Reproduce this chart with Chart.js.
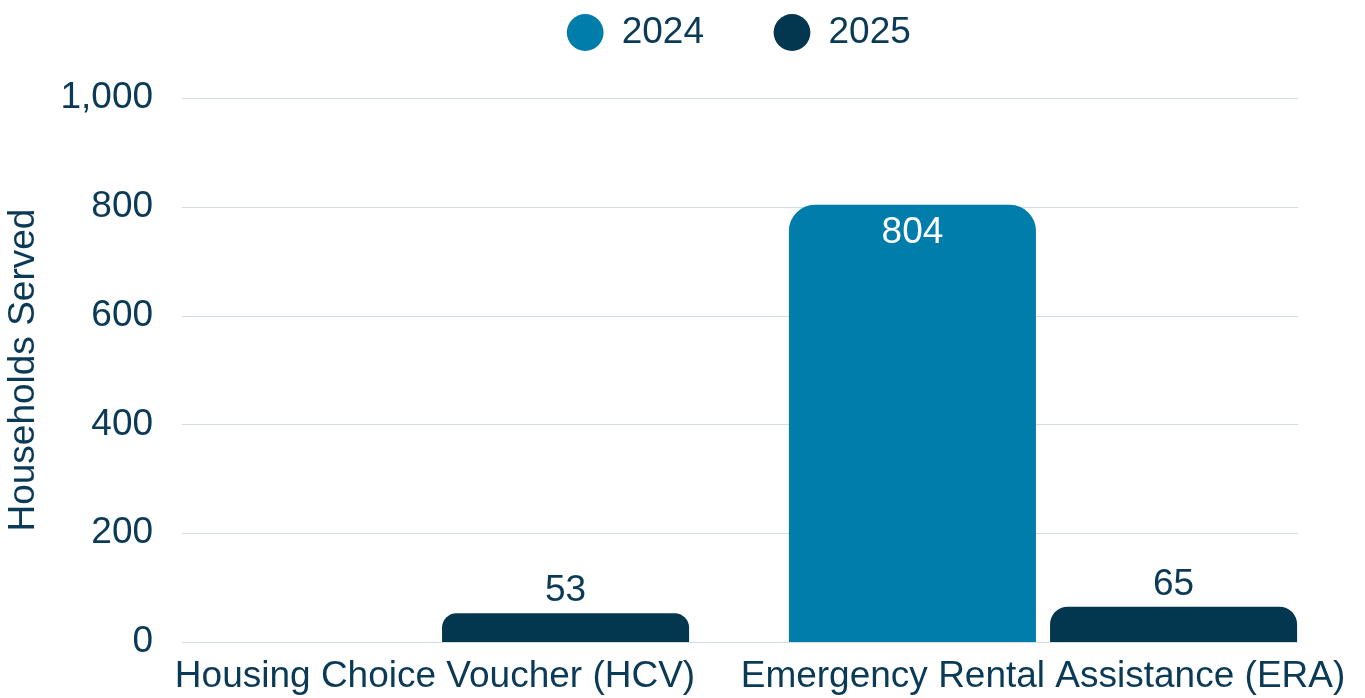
<!DOCTYPE html>
<html>
<head>
<meta charset="utf-8">
<script src="https://cdn.jsdelivr.net/npm/chart.js@4.4.1/dist/chart.umd.min.js"></script>
<style>
  html, body { margin: 0; padding: 0; background: #fff; }
  #wrap { width: 1365px; height: 698px; }
</style>
</head>
<body>
<div id="wrap"><canvas id="chart-hh"></canvas></div>
<script>
// ── Datos ────────────────────────────────────────────────────────────────────
const PROGRAMAS = ['Housing Choice Voucher (HCV)', 'Emergency Rental Assistance (ERA)'];
const ANIOS     = ['2024', '2025'];
const VAL_2024  = [null, 804];
const VAL_2025  = [53, 65];
const Y_TICKS   = [0, 200, 400, 600, 800, 1000];

const C_2024 = '#007dab';
const C_2025 = '#03364f';
const C_TEXT = '#0b3a56';
const C_GRID = '#d3dbe3';
const FONT   = "'Liberation Sans', Arial, sans-serif";
const FS     = 37;

Chart.defaults.font.family = FONT;
Chart.defaults.color       = C_TEXT;

// grid recortada (no cubre todo el área del chart)
const gridPlugin = {
  id: 'gridRecortada',
  beforeDatasetsDraw(chart) {
    const { ctx, chartArea, scales: { y } } = chart;
    ctx.save();
    ctx.strokeStyle = C_GRID;
    ctx.lineWidth = 1;
    Y_TICKS.forEach(t => {
      const py = Math.round(y.getPixelForValue(t)) + 0.5;
      ctx.beginPath();
      ctx.moveTo(chartArea.left + 51, py);
      ctx.lineTo(chartArea.right - 49, py);
      ctx.stroke();
    });
    ctx.restore();
  }
};

// etiquetas de valor (dentro si la barra es alta, encima si no)
const etiquetasPlugin = {
  id: 'etiquetas',
  afterDatasetsDraw(chart) {
    const { ctx } = chart;
    ctx.save();
    ctx.font = `${FS}px ${FONT}`;
    ctx.textAlign = 'center';
    ctx.textBaseline = 'middle';
    chart.data.datasets.forEach((ds, i) => {
      chart.getDatasetMeta(i).data.forEach((bar, j) => {
        const v = ds.data[j];
        if (v == null) return;
        const dentro = (bar.base - bar.y) > 80;
        ctx.fillStyle = dentro ? '#ffffff' : C_TEXT;
        ctx.fillText(String(v), bar.x, dentro ? bar.y + 28 : bar.y - 22);
      });
    });
    ctx.restore();
  }
};

new Chart(document.getElementById('chart-hh'), {
  type: 'bar',
  data: {
    labels: PROGRAMAS,
    datasets: [
      { label: ANIOS[0], data: VAL_2024, backgroundColor: C_2024 },
      { label: ANIOS[1], data: VAL_2025, backgroundColor: C_2025 },
    ]
  },
  options: {
    responsive: true,
    maintainAspectRatio: false,
    animation: false,
    categoryPercentage: 0.859,
    barPercentage: 0.946,
    borderRadius: { topLeft: 26, topRight: 26 },
    borderSkipped: 'bottom',
    layout: { padding: { top: -56, right: 18, bottom: 0, left: 0 } },
    plugins: {
      legend: {
        position: 'top',
        fullSize: false,
        labels: {
          usePointStyle: true,
          pointStyle: 'circle',
          boxWidth: 36,
          boxHeight: 26,
          padding: 70,
          font: { size: FS },
          color: C_TEXT,
        }
      },
      // separador entre leyenda y área del gráfico
      subtitle: {
        display: true,
        text: ' ',
        weight: 500,
        font: { size: 1 },
        padding: { top: 36, bottom: 0 },
      },
      tooltip: { enabled: false },
    },
    scales: {
      x: {
        afterFit: s => { s.height = 56; },
        grid: { display: false },
        border: { display: false },
        ticks: { font: { size: FS, lineHeight: 1 }, color: C_TEXT, padding: 8.5, maxRotation: 0 },
      },
      y: {
        min: 0, max: 1000,
        afterFit: s => { s.width = 131; },
        grid: { display: false },
        border: { display: false },
        ticks: {
          stepSize: 200,
          mirror: true,
          crossAlign: 'far',
          padding: -70.5,
          font: { size: FS },
          color: C_TEXT,
          callback: v => v.toLocaleString('en-US'),
        },
        title: {
          display: true,
          text: 'Households Served',
          font: { size: FS },
          color: C_TEXT,
          padding: { top: 2, bottom: 0 },
        }
      }
    }
  },
  plugins: [gridPlugin, etiquetasPlugin]
});
</script>
</body>
</html>
